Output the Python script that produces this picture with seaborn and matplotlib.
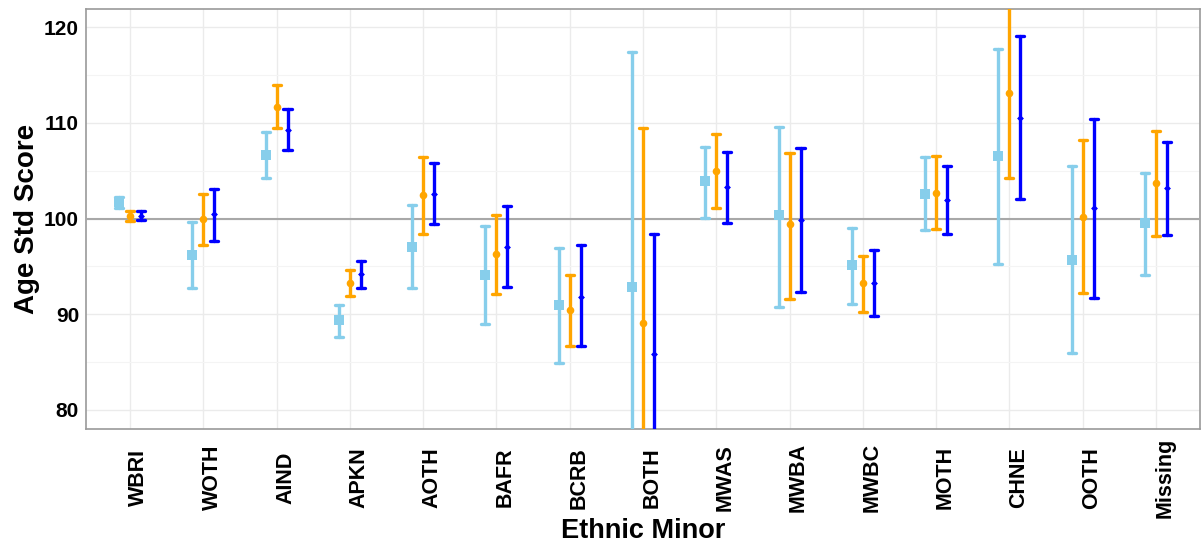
"""
Age standardised score by minor ethnic group, three cohorts side by side
with their confidence intervals (lower / mean / upper read off the chart).
"""
import matplotlib
matplotlib.use("Agg")
import matplotlib.pyplot as plt
import matplotlib.transforms as mtransforms
import pandas as pd
import seaborn as sns
from matplotlib.ticker import MultipleLocator

CATEGORIES = ["WBRI", "WOTH", "AIND", "APKN", "AOTH", "BAFR", "BCRB", "BOTH",
              "MWAS", "MWBA", "MWBC", "MOTH", "CHNE", "OOTH", "Missing"]
SERIES = ["s1", "s2", "s3"]
COLORS = ["#87CEEB", "#FFA500", "#0000FF"]

# series 1 (light blue, squares)
S1_MEAN = [101.7, 96.2, 106.6, 89.4, 97.0, 94.1, 91.0, 92.8, 103.9, 100.4, 95.1, 102.6, 106.5, 95.7, 99.5]
S1_LO = [101.1, 92.7, 104.2, 87.6, 92.7, 89.0, 84.9, 68.2, 100.1, 90.8, 91.1, 98.75, 95.2, 85.9, 94.1]
S1_HI = [102.2, 99.6, 109.0, 91.0, 101.4, 99.2, 96.9, 117.4, 107.5, 109.6, 99.0, 106.4, 117.7, 105.5, 104.8]
# series 2 (orange, circles)
S2_MEAN = [100.3, 100.0, 111.7, 93.3, 102.5, 96.25, 90.4, 89.1, 105.0, 99.4, 93.3, 102.7, 113.1, 100.2, 103.7]
S2_LO = [99.7, 97.2, 109.5, 91.9, 98.4, 92.1, 86.7, 68.7, 101.1, 91.6, 90.2, 98.9, 104.2, 92.2, 98.2]
S2_HI = [100.8, 102.6, 114.0, 94.6, 106.4, 100.4, 94.1, 109.5, 108.8, 106.9, 96.1, 106.5, 122.1, 108.2, 109.2]
# series 3 (blue, small points)
S3_MEAN = [100.3, 100.5, 109.3, 94.2, 102.6, 97.0, 91.8, 85.8, 103.3, 99.8, 93.3, 101.9, 110.55, 101.1, 103.2]
S3_LO = [99.8, 97.7, 107.2, 92.7, 99.4, 92.8, 86.7, 73.2, 99.55, 92.3, 89.8, 98.4, 102.0, 91.7, 98.3]
S3_HI = [100.8, 103.1, 111.4, 95.6, 105.8, 101.3, 97.2, 98.4, 107.0, 107.4, 96.7, 105.5, 119.1, 110.4, 108.05]

MEANS = [S1_MEAN, S2_MEAN, S3_MEAN]
LOS = [S1_LO, S2_LO, S3_LO]
HIS = [S1_HI, S2_HI, S3_HI]


def long_frame() -> pd.DataFrame:
    # three rows per cell: median -> mean, full range -> CI
    rows = []
    for name, m, lo, hi in zip(SERIES, MEANS, LOS, HIS):
        for cat, a, b, c in zip(CATEGORIES, lo, m, hi):
            for v in (a, b, c):
                rows.append({"group": cat, "series": name, "score": v})
    return pd.DataFrame(rows)


sns.set_style("white")
plt.rcParams["font.family"] = ["Liberation Sans", "DejaVu Sans"]
plt.rcParams["font.weight"] = "bold"

fig = plt.figure(figsize=(12.01, 5.46), dpi=100)
ax = fig.add_axes([0.0716, 0.2143, 0.9275, 0.7692])

ax.axhline(100, color="#A8A8A8", lw=1.5, zorder=1)

df = long_frame()
sns.pointplot(data=df, x="group", y="score", hue="series", order=CATEGORIES,
              hue_order=SERIES, palette=COLORS, estimator="median",
              errorbar=("pi", 100), dodge=0.3, linestyle="none",
              markers=["s", "o", "D"], markersize=5, capsize=0.11,
              err_kws={"linewidth": 2.4}, legend=False, ax=ax)

# marker size per series, like the original
sizes = {COLORS[0]: 7, COLORS[1]: 5.5, COLORS[2]: 3.5}
for ln in ax.lines:
    c = matplotlib.colors.to_hex(ln.get_color()).upper()
    for k, s in sizes.items():
        if c == k.upper() and ln.get_marker() not in (None, "", "None"):
            ln.set_markersize(s)
            ln.set_markeredgewidth(0)
    ln.set_zorder(3)

ax.set_ylim(78.0, 121.9)
ax.set_xlim(-0.6, 14.6)
ax.yaxis.set_major_locator(MultipleLocator(10))
ax.yaxis.set_minor_locator(MultipleLocator(5))
ax.grid(which="major", axis="both", color="#EBEBEB", lw=1.0, zorder=0)
ax.grid(which="minor", axis="y", color="#F4F4F4", lw=0.8, zorder=0)
ax.set_axisbelow(True)
for sp in ax.spines.values():
    sp.set_color("#9A9A9A")
    sp.set_linewidth(1.2)

ax.tick_params(axis="both", which="major", length=3, color="#333333",
               labelcolor="black")
ax.tick_params(axis="y", labelsize=15, pad=2)
ax.tick_params(axis="y", which="minor", length=0)
ax.tick_params(axis="x", labelsize=15.5, pad=32)
shift = mtransforms.ScaledTranslation(9 / 100, 0, fig.dpi_scale_trans)
for lab in ax.get_xticklabels():
    lab.set_rotation(90)
    lab.set_verticalalignment("center")
    lab.set_fontweight("bold")
    lab.set_transform(lab.get_transform() + shift)
plt.setp(ax.get_yticklabels(), fontweight="bold")

ax.set_xlabel("Ethnic Minor", fontsize=19.5, fontweight="bold", labelpad=0,
              color="black")
ax.set_ylabel("Age Std Score", fontsize=20, fontweight="bold", labelpad=3,
              color="black")

fig.savefig("out.png", dpi=100)
